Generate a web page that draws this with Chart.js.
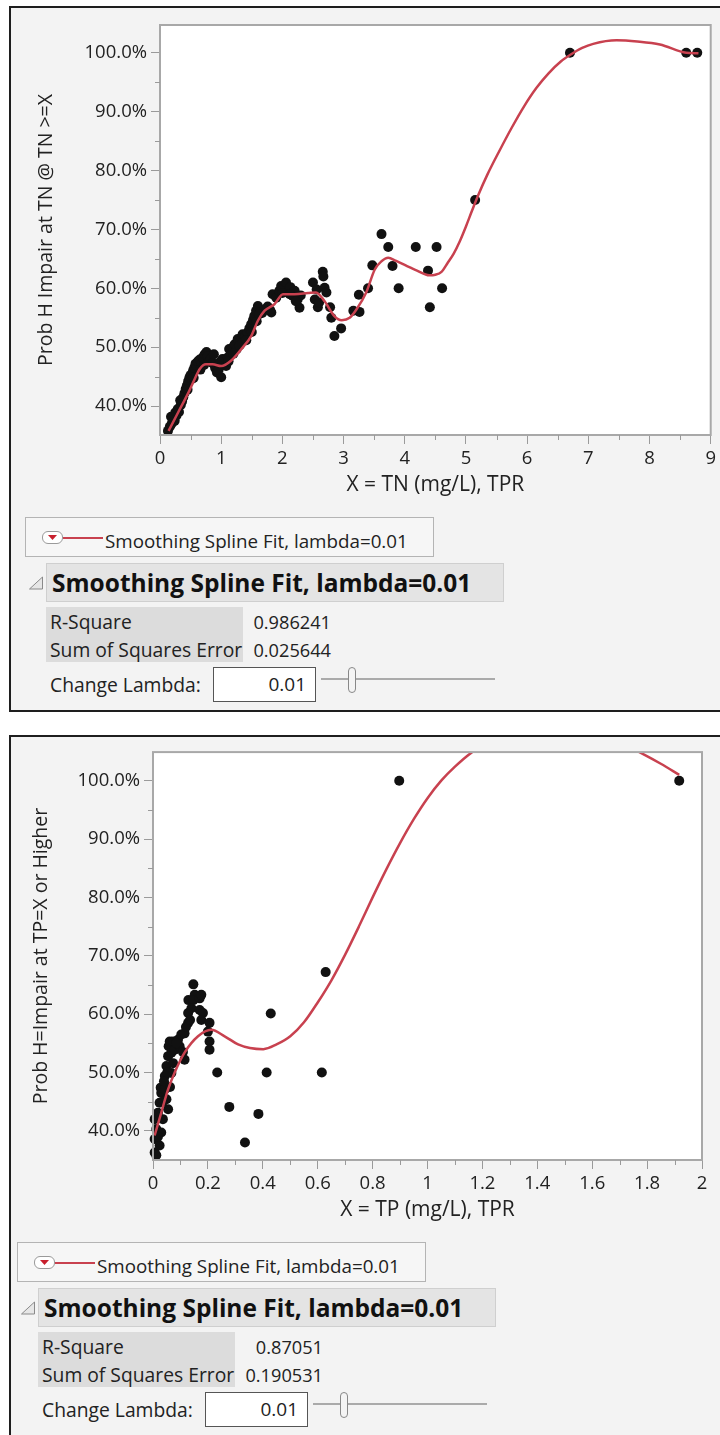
<!DOCTYPE html>
<html>
<head>
<meta charset="utf-8">
<script src="https://cdn.jsdelivr.net/npm/chart.js@4.4.1/dist/chart.umd.min.js"></script>
<style>
  body { margin: 0; width: 720px; height: 1435px; background: #fff; overflow: hidden;
         font-family: "Open Sans", sans-serif; color: #222; }
  .panel { position: absolute; left: 9px; width: 730px; border: 2px solid #1e1e1e; background: #f3f3f3; overflow: hidden; }
  .panel canvas { position: absolute; left: 0; top: 0; }
  .abs { position: absolute; white-space: nowrap; }
  .legbox { border: 1px solid #b4b4b4; background: #f6f6f6; box-sizing: border-box; }
  .icon { border: 1px solid #9a9a9a; border-radius: 6px; background: #fff; box-sizing: border-box; }
  .redline { background: #c8414f; height: 2px; }
  .txt { font-size: 19.3px; line-height: 24px; height: 24px; }
  .leg { font-size: 18.8px; }
  .header { background: #e4e4e4; border: 1px solid #cfcfcf; box-sizing: border-box;
            font-weight: bold; font-size: 24.5px; line-height: 37px; padding-left: 5px; color: #111; }
  .labels { background: #dcdcdc; }
  .val { text-align: right; font-size: 18.2px; }
  .input { background: #fff; border: 1px solid #555; box-sizing: border-box; text-align: right;
           font-size: 19px; line-height: 33px; padding-right: 9px; }
  .slider { background: #aaa; height: 2px; }
  .handle { border: 1.5px solid #888; border-radius: 4px; background: #f4f4f4; box-sizing: border-box; }
</style>
</head>
<body>
<div class="panel" id="p1" style="top:6px; height:702px;"><canvas id="c1" width="709" height="490"></canvas></div>
<div class="panel" id="p2" style="top:735px; height:800px;"><canvas id="c2" width="709" height="486"></canvas></div>
<script>
// ---- TN panel data ----
const tnX = [0.13,0.16,0.19,0.21,0.23,0.25,0.27,0.29,0.31,0.34,0.36,0.38,0.40,0.42,0.44,0.46,0.48,0.50,0.52,0.54,
  0.56,0.58,0.60,0.62,0.65,0.68,0.70,0.73,0.76,0.78,0.80,0.83,0.86,0.90,0.93,0.96,1.00,1.02,1.05,1.08,
  1.10,1.13,1.16,1.19,1.22,1.25,1.27,1.31,1.35,1.39,1.43,1.46,1.49,1.52,1.54,1.57,1.60,1.64,1.67,1.71,
  1.76,1.82,1.84,1.90,1.95,1.98,2.02,2.06,2.09,2.13,2.17,2.20,2.25,2.28,2.30,2.50,2.53,2.56,2.58,2.60,
  2.66,2.67,2.69,2.72,2.78,2.80,2.85,2.96,3.16,3.26,3.25,3.40,3.47,3.62,3.73,3.80,3.90,4.18,4.38,4.41,
  4.52,4.61,5.15,6.70,8.60,8.78,
  0.18,0.24,0.33,0.45,0.55,0.66,0.72,0.88,0.98,1.12,1.20,1.30,1.41,1.50,1.58,1.62,1.80,2.00,2.12,2.22];
const tnY = [35.8,36.5,37.0,37.8,38.2,38.9,38.4,39.5,39.0,40.2,40.8,41.5,42.2,42.9,43.5,44.2,44.8,45.3,44.6,46.0,
  46.5,47.2,46.8,47.6,47.9,47.2,48.3,48.8,49.2,48.5,47.6,48.0,47.3,46.5,45.7,46.2,44.9,48.0,47.0,46.8,
  48.2,49.7,48.8,50.0,50.5,49.6,51.4,51.0,52.2,51.8,52.5,53.2,53.9,54.6,55.3,56.2,57.0,56.0,55.8,56.4,
  56.9,55.9,59.0,58.4,59.6,60.4,60.0,61.0,59.5,60.2,58.7,59.6,58.1,56.7,58.8,61.0,58.1,59.8,56.8,57.6,
  62.8,62.0,60.1,59.3,56.8,55.0,51.9,53.2,56.2,56.0,58.9,60.0,63.9,69.2,67.0,63.8,60.0,67.0,63.0,56.8,
  67.0,60.0,75.0,100,100,100,
  38.2,37.5,41.0,42.8,44.8,46.2,47.0,48.8,47.5,47.6,48.9,50.3,51.2,52.6,54.4,55.6,56.3,59.2,59.0,57.8];
const tnFitX = [0.14,0.3,0.45,0.55,0.65,0.75,0.86,1.0,1.16,1.33,1.49,1.6,1.71,1.87,2.01,2.2,2.42,2.55,2.69,2.85,
  2.97,3.1,3.21,3.37,3.51,3.62,3.73,3.85,4.03,4.2,4.4,4.5,4.6,4.7,4.8,4.9,5.0,5.1,5.2,5.35,
  5.55,5.75,5.95,6.15,6.35,6.55,6.7,6.9,7.08,7.46,7.8,8.17,8.6,8.8];
const tnFitY = [35.8,39.0,42.0,44.2,46.3,47.1,47.1,46.8,47.7,49.7,51.9,54.5,56.2,57.3,59.0,59.0,59.2,59.3,57.8,55.3,
  54.6,55.0,56.4,59.3,63.2,64.6,65.2,64.7,63.8,63.0,62.2,62.3,62.8,64.3,65.9,68.0,70.5,73.2,75.8,79.3,
  83.4,87.3,90.9,94.0,96.5,98.5,99.6,100.8,101.5,102.1,101.9,101.4,100.0,99.9];
const tnTicks = [0,1,2,3,4,5,6,7,8,9];
const tnMinor = [0.5,1.5,2.5,3.5,4.5,5.5,6.5,7.5,8.5];
const tnStats = ['0.986241', '0.025644'];

// ---- TP panel data ----
const tpX = [0.006,0.012,0.006,0.012,0.006,0.018,0.024,0.030,0.028,0.043,0.049,0.055,0.036,0.030,0.024,0.043,0.049,0.055,0.057,0.061,
  0.073,0.067,0.073,0.067,0.079,0.091,0.103,0.097,0.115,0.115,0.109,0.128,0.128,0.129,0.152,0.147,0.147,0.170,0.176,0.170,
  0.182,0.176,0.206,0.200,0.206,0.206,0.234,0.278,0.335,0.384,0.414,0.429,0.615,0.629,0.897,1.917,
  0.018,0.036,0.040,0.052,0.062,0.085,0.120,0.135,0.140];
const tpY = [36.3,35.8,38.6,40.3,42.0,43.1,44.8,46.5,47.4,47.1,45.4,43.7,42.0,39.7,37.5,49.4,51.1,52.8,54.5,55.3,
  55.3,53.4,51.6,49.9,53.9,55.6,56.5,54.5,56.7,52.2,53.5,58.5,60.2,62.4,63.3,65.1,62.4,62.7,63.3,60.7,
  60.2,59.0,58.5,57.0,55.3,53.9,50.0,44.1,38.0,42.9,50.0,60.1,50.0,67.2,100,100,
  39.0,45.0,48.5,50.0,47.5,55.0,57.8,59.0,61.0];
const tpFitX = [0.006,0.030,0.055,0.079,0.115,0.164,0.212,0.261,0.31,0.353,0.402,0.45,0.5,0.55,0.6,0.65,0.7,0.75,0.8,0.85,
  0.9,0.95,1.0,1.05,1.1,1.16,1.25,1.35,1.45,1.6,1.7,1.772,1.85,1.917];
const tpFitY = [39.2,43.1,47.1,50.0,53.4,56.2,57.3,56.2,54.8,54.2,54.0,54.8,56.2,58.6,62.0,65.8,70.2,75.0,80.0,84.8,
  89.3,93.4,97.0,100.0,102.4,104.8,107.3,109.2,110.0,108.6,106.6,104.9,102.9,101.0];
const tpTicks = [0,0.2,0.4,0.6,0.8,1,1.2,1.4,1.6,1.8,2];
const tpMinor = [0.1,0.3,0.5,0.7,0.9,1.1,1.3,1.5,1.7,1.9];
const tpStats = ['0.87051', '0.190531'];

// ---- shared ----
const pctTicks = [40,50,60,70,80,90,100];
const pctMinor = [45,55,65,75,85,95];
const fitLabel = 'Smoothing Spline Fit, lambda=0.01';
const statLabels = ['R-Square', 'Sum of Squares Error'];

const TICK_FONT = { family: '"Open Sans", sans-serif', size: 18.5 };
const YTITLE_FONT = { family: '"Open Sans", sans-serif', size: 19.5 };
const XTITLE_FONT = { family: '"Open Sans", sans-serif', size: 21 };
const INK = '#222';
const TICK = '#9a9a9a';

// white plot area + gray frame
const plotFrame = {
  id: 'plotFrame',
  beforeDraw(chart) {
    const { ctx, chartArea: a } = chart;
    ctx.save();
    ctx.fillStyle = '#fff';
    ctx.fillRect(a.left, a.top, a.right - a.left, a.bottom - a.top);
    ctx.restore();
  },
  afterDraw(chart) {
    const { ctx, chartArea: a } = chart;
    ctx.save();
    ctx.strokeStyle = '#a8a8a8';
    ctx.lineWidth = 2;
    ctx.strokeRect(a.left, a.top, a.right - a.left, a.bottom - a.top);
    ctx.restore();
  }
};

// short minor tick marks outside the frame
const minorTicks = {
  id: 'minorTicks',
  afterDraw(chart, args, opts) {
    const { ctx, chartArea: a, scales: { x, y } } = chart;
    ctx.save();
    ctx.strokeStyle = TICK;
    ctx.lineWidth = 1;
    ctx.beginPath();
    opts.x.forEach(v => {
      const px = Math.round(x.getPixelForValue(v)) + 0.5;
      ctx.moveTo(px, a.bottom); ctx.lineTo(px, a.bottom + 5);
    });
    opts.y.forEach(v => {
      const py = Math.round(y.getPixelForValue(v)) + 0.5;
      ctx.moveTo(a.left - 5, py); ctx.lineTo(a.left, py);
    });
    ctx.stroke();
    ctx.restore();
  }
};

function buildChart(canvasId, p) {
  const pts = p.x.map((v, i) => ({ x: v, y: p.y[i] }));
  const fit = p.fitX.map((v, i) => ({ x: v, y: p.fitY[i] }));
  return new Chart(document.getElementById(canvasId), {
    type: 'scatter',
    data: {
      datasets: [
        { type: 'line', data: fit, borderColor: '#c8414f', borderWidth: 2.5, pointRadius: 0,
          cubicInterpolationMode: 'monotone', fill: false, clip: 0 },
        { data: pts, backgroundColor: '#111', borderWidth: 0, pointRadius: 5, clip: false }
      ]
    },
    options: {
      responsive: false, animation: false, devicePixelRatio: 1,
      layout: { padding: { top: p.padTop, right: p.padRight, left: 0, bottom: 0 } },
      plugins: { legend: { display: false }, tooltip: { enabled: false },
                 minorTicks: { x: p.minor, y: pctMinor } },
      scales: {
        x: {
          type: 'linear', min: p.xMin, max: p.xMax,
          afterBuildTicks: s => { s.ticks = p.ticks.map(v => ({ value: v })); },
          afterFit: s => { s.height = 63; },
          grid: { drawOnChartArea: false, drawTicks: true, tickLength: 9, color: TICK },
          border: { display: false },
          ticks: { font: TICK_FONT, color: INK, padding: 4, maxRotation: 0,
                   callback: v => String(Math.round(v * 10) / 10) },
          title: { display: true, text: p.xTitle, font: XTITLE_FONT, color: INK, padding: { top: 0, bottom: 0 } }
        },
        y: {
          type: 'linear', min: p.yMin, max: p.yMax,
          afterBuildTicks: s => { s.ticks = pctTicks.map(v => ({ value: v })); },
          afterFit: s => { s.width = p.yAxisW; },
          grid: { drawOnChartArea: false, drawTicks: true, tickLength: 9, color: TICK },
          border: { display: false },
          ticks: { font: TICK_FONT, color: INK, padding: 4, callback: v => v.toFixed(1) + '%' },
          title: { display: true, text: p.yTitle, font: YTITLE_FONT, color: INK,
                   padding: { top: p.yTitlePad, bottom: 0 } }
        }
      }
    },
    plugins: [plotFrame, minorTicks]
  });
}

// legend, report header and stats table under each plot
function buildReport(panelId, stats, dx, dy) {
  const el = (cls, l, t, w, h, html) =>
    `<div class="abs ${cls}" style="left:${l + dx}px;top:${t + dy}px;${w ? 'width:' + w + 'px;' : ''}${h ? 'height:' + h + 'px;' : ''}">${html || ''}</div>`;
  const tri = '<svg width="16" height="14"><polygon points="14.5,1 14.5,13 1.5,13" fill="#e6e6e6" stroke="#8a8a8a" stroke-width="1"/></svg>';
  const down = '<svg width="19" height="11" style="display:block"><polygon points="5,3 14,3 9.5,8" fill="#c8202e"/></svg>';
  const html =
    el('legbox', 14, 509, 409, 40) +
    el('icon', 31, 523, 21, 13, down) +
    el('redline', 52, 529, 40, 0) +
    el('txt leg', 94, 521, 0, 0, fitLabel) +
    el('', 17, 565, 16, 14, tri) +
    el('header', 35, 555, 458, 39, fitLabel) +
    el('labels', 35, 599, 197, 55) +
    el('txt', 39, 602, 0, 0, statLabels[0]) +
    el('txt', 39, 630, 0, 0, statLabels[1]) +
    el('txt val', 220, 602, 100, 0, stats[0]) +
    el('txt val', 220, 630, 100, 0, stats[1]) +
    el('txt', 39, 665, 0, 0, 'Change Lambda:') +
    el('input', 202, 659, 103, 35, '0.01') +
    el('slider', 310, 670, 174, 0) +
    el('handle', 337, 659, 8, 26);
  document.getElementById(panelId).insertAdjacentHTML('beforeend', html);
}

buildChart('c1', {
  x: tnX, y: tnY, fitX: tnFitX, fitY: tnFitY, ticks: tnTicks, minor: tnMinor,
  xMin: 0, xMax: 9, yMin: 35.1, yMax: 104.7,
  padTop: 17, padRight: 9, yAxisW: 149, yTitlePad: 24,
  xTitle: 'X = TN (mg/L), TPR', yTitle: 'Prob H Impair at TN @ TN >=X'
});
buildChart('c2', {
  x: tpX, y: tpY, fitX: tpFitX, fitY: tpFitY, ticks: tpTicks, minor: tpMinor,
  xMin: 0, xMax: 2, yMin: 35.0, yMax: 104.9,
  padTop: 13, padRight: 18, yAxisW: 142, yTitlePad: 19,
  xTitle: 'X = TP (mg/L), TPR', yTitle: 'Prob H=Impair at TP=X or Higher'
});
buildReport('p1', tnStats, 0, 0);
buildReport('p2', tpStats, -8, -4);
</script>
</body>
</html>
